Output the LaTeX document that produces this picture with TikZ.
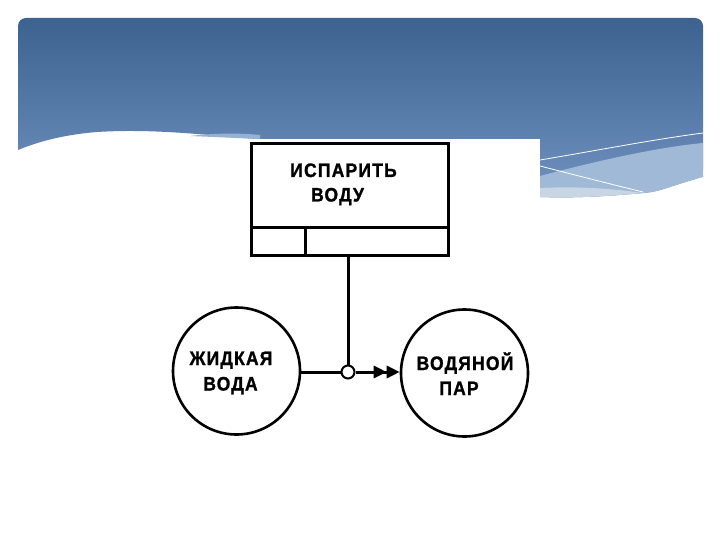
\documentclass[tikz,border=0pt]{standalone}
\usepackage{fontspec}
\setmainfont{Liberation Sans}
\newfontfamily\lbl{Liberation Sans}[LetterSpace=6,FakeStretch=0.9,FakeBold=1.2]
\usetikzlibrary{arrows.meta}
\definecolor{skytop}{RGB}{60,98,144}
\definecolor{skybot}{RGB}{112,146,192}
\definecolor{swoosh}{RGB}{160,185,214}
\definecolor{swooshlight}{RGB}{200,213,228}
\definecolor{band}{RGB}{150,178,210}
\begin{document}
\begin{tikzpicture}[x=1pt,y=-1pt,
  txt/.style={font=\lbl\bfseries\fontsize{19.5}{22}\selectfont, inner sep=0pt, anchor=base},
  thick line/.style={line width=3pt},
  bubble/.style={circle, draw, line width=2.6pt, minimum size=127pt, inner sep=0pt},
  procbox/.style={rectangle, draw, line width=3pt, minimum width=197pt, minimum height=112pt, inner sep=0pt}
]
\useasboundingbox (0,0) rectangle (720,540);
% header background
\shade[top color=skytop, bottom color=skybot, rounded corners=8pt]
  (18,150) -- (18,18) -- (703,18) -- (703,177) [sharp corners]
  .. controls (670,186) and (660,192) .. (643,193)
  .. controls (600,197) and (570,198) .. (540,197)
  -- (540,139) -- (260,139)
  .. controls (220,137) and (160,128) .. (97,132)
  .. controls (60,135) and (35,143) .. (18,150) -- cycle;
% light band on the left
\fill[band] (190,136) .. controls (215,133) and (240,133) .. (260,135) -- (260,139) .. controls (235,138) and (215,137) .. (190,136) -- cycle;
% swoosh on the right
\fill[swoosh] (540,176) .. controls (600,160) and (660,147) .. (703,143)
  -- (703,177) .. controls (670,186) and (660,192) .. (643,193)
  .. controls (600,197) and (570,198) .. (540,197) -- cycle;
\fill[swooshlight] (540,188) .. controls (580,186) and (615,189) .. (643,193)
  .. controls (600,197) and (570,198) .. (540,197) -- cycle;
\draw[white, line width=0.8pt] (540,160) .. controls (600,150) and (650,140) .. (703,133);
\draw[white, line width=0.8pt] (540,166) .. controls (575,175) and (610,184) .. (643,192);
% diagram
\node[procbox] (box) at (349.5,199.5) {};
\coordinate (sepL) at (box.west |- 0,228);
\coordinate (sepR) at (box.east |- 0,228);
\coordinate (divT) at (305,228);
\draw[thick line] (sepL) -- (sepR);
\draw[thick line] (divT) -- (divT |- box.south);
\node[txt] (t1) at (343.5,177) {ИСПАРИТЬ};
\node[txt] (t2) at (337.5,201.5) {ВОДУ};
\node[bubble] (liq) at (236.5,371) {};
\node[bubble] (vap) at (464.5,373) {};
\node[txt] (t3) at (231,365) {ЖИДКАЯ};
\node[txt] (t4) at (230.5,390.5) {ВОДА};
\node[txt] (t5) at (465,370) {ВОДЯНОЙ};
\node[txt] (t6) at (459,395) {ПАР};
\node[circle, draw, fill=white, line width=2pt, minimum size=13pt, inner sep=0pt] (j) at (348,372) {};
\draw[thick line] (j |- box.south) -- (j.north);
\draw[thick line] (liq.east |- j) -- (j.west);
\draw[thick line, -{Triangle[length=13pt,width=12pt]Triangle[length=13pt,width=12pt]}] (j.east) -- (vap.west |- j);
\end{tikzpicture}
\end{document}
